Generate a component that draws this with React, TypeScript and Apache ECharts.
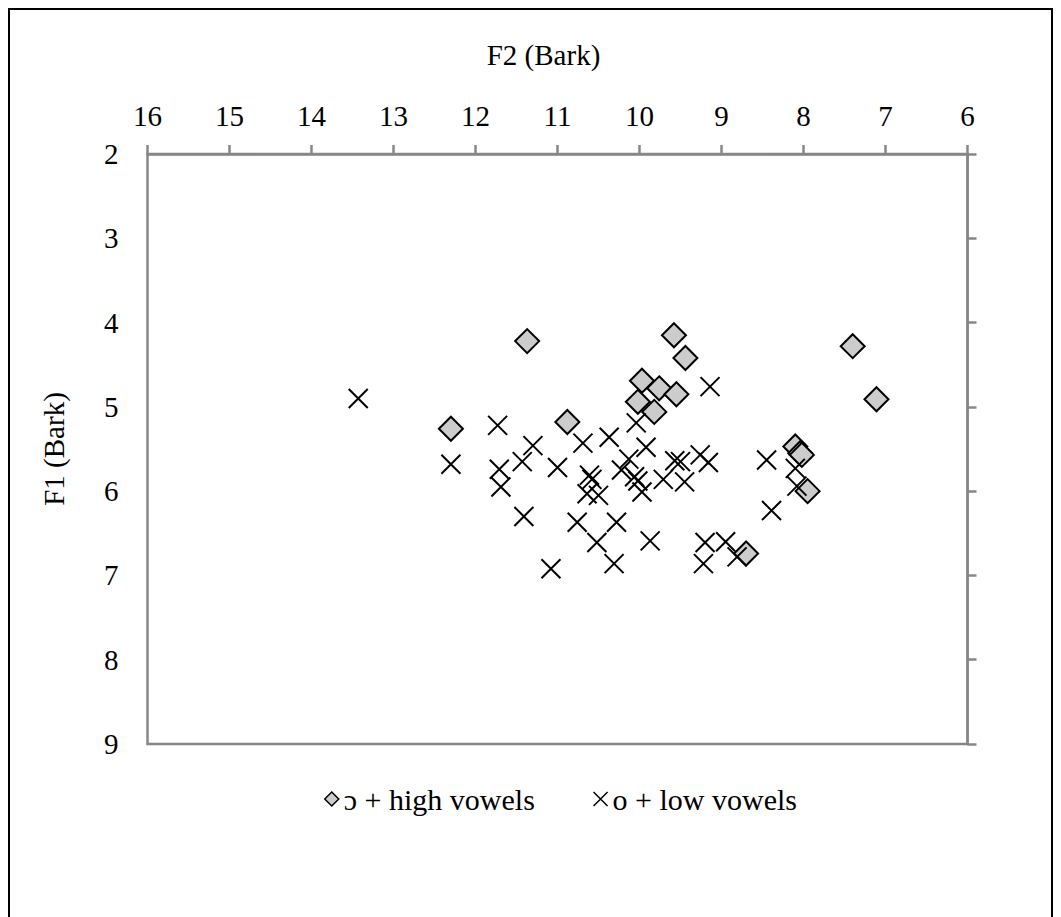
import React, { useEffect, useRef } from "react";
import * as echarts from "echarts";

const highName = "ɔ + high vowels";
const lowName = "o + low vowels";

// F2 (Bark), F1 (Bark)
const highF2 = [11.37, 12.3, 10.88, 9.58, 9.44, 9.97, 9.76, 9.55, 10.02, 9.82, 7.4, 7.11, 8.1, 8.04, 8.02, 7.95, 8.7];
const highF1 = [4.22, 5.26, 5.18, 4.15, 4.42, 4.69, 4.78, 4.85, 4.94, 5.06, 4.28, 4.91, 5.47, 5.55, 5.57, 6.0, 6.74];

const lowF2 = [13.43, 11.73, 12.3, 11.3, 11.71, 11.69, 11.43, 11.0, 10.69, 10.37, 10.04, 9.92, 11.41, 10.76, 10.28, 10.52, 9.87, 11.08, 10.31, 10.61, 10.58, 10.64, 10.5, 10.13, 10.22, 10.06, 10.02, 9.97, 9.71, 9.45, 9.57, 9.5, 9.26, 9.16, 9.14, 8.45, 8.1, 8.08, 8.39, 9.2, 8.95, 9.22, 8.81];
const lowF1 = [4.9, 5.22, 5.68, 5.46, 5.74, 5.95, 5.65, 5.72, 5.43, 5.36, 5.19, 5.48, 6.3, 6.37, 6.37, 6.61, 6.59, 6.92, 6.86, 5.81, 5.86, 6.03, 6.05, 5.62, 5.75, 5.83, 5.88, 6.01, 5.86, 5.89, 5.64, 5.65, 5.57, 5.66, 4.76, 5.63, 5.73, 5.94, 6.23, 6.61, 6.6, 6.86, 6.78];

const F2_MIN = 6, F2_MAX = 16, F1_MIN = 2, F1_MAX = 9;

const FONT = "Liberation Serif";
const GRAY = "#878787";
const CROSS = "path://M0,0L10,10M10,0L0,10";

export default function App() {
  const ref = useRef<HTMLDivElement>(null);
  useEffect(() => {
    if (!ref.current) return;
    const chart = echarts.init(ref.current, undefined, { renderer: "svg" });
    const high = highF2.map((x, i) => [x, highF1[i]]);
    const low = lowF2.map((x, i) => [x, lowF1[i]]);
    chart.setOption({
      animation: false,
      backgroundColor: "#fff",
      textStyle: { fontFamily: FONT, color: "#000" },
      grid: {
        left: 137.5, top: 144, width: 820, height: 590,
        show: true, borderColor: GRAY, borderWidth: 2.5, backgroundColor: "transparent",
      },
      xAxis: {
        type: "value", position: "top", inverse: true,
        min: F2_MIN, max: F2_MAX, interval: 1,
        name: "F2 (Bark)", nameLocation: "middle", nameGap: 85,
        nameTextStyle: { fontFamily: FONT, fontSize: 29, color: "#000", padding: [0, 28, 0, 0] },
        axisLine: { show: true, lineStyle: { color: GRAY, width: 2.5 } },
        axisTick: { show: true, inside: false, length: 9, lineStyle: { color: GRAY, width: 2.5 } },
        axisLabel: { fontFamily: FONT, fontSize: 29, color: "#000", margin: 24 },
        splitLine: { show: false },
      },
      yAxis: [
        {
          type: "value", position: "left", inverse: true,
          min: F1_MIN, max: F1_MAX, interval: 1,
          name: "F1 (Bark)", nameLocation: "middle", nameGap: 79, nameRotate: 90,
          nameTextStyle: { fontFamily: FONT, fontSize: 29, color: "#000" },
          axisLine: { show: false },
          axisTick: { show: false },
          axisLabel: { fontFamily: FONT, fontSize: 29, color: "#000", margin: 29 },
          splitLine: { show: false },
        },
        {
          type: "value", position: "right", inverse: true,
          min: F1_MIN, max: F1_MAX, interval: 1,
          axisLine: { show: true, lineStyle: { color: GRAY, width: 2.5 } },
          axisTick: { show: true, inside: false, length: 9, lineStyle: { color: GRAY, width: 2.5 } },
          axisLabel: { show: false },
          splitLine: { show: false },
        },
      ],
      legend: {
        left: 309, top: 769,
        itemGap: 58, itemWidth: 14, itemHeight: 14,
        textStyle: { fontFamily: FONT, fontSize: 30, color: "#000" },
        data: [
          { name: highName, icon: "diamond", itemStyle: { color: "#cccccc", borderColor: "#000", borderWidth: 1.5 } },
          { name: lowName, icon: CROSS, itemStyle: { color: "transparent", borderColor: "#000", borderWidth: 1.5 } },
        ],
      },
      series: [
        {
          name: highName, type: "scatter", yAxisIndex: 0, data: high,
          symbol: "diamond", symbolSize: 24,
          itemStyle: { color: "#cccccc", borderColor: "#000", borderWidth: 2, opacity: 1 },
          emphasis: { disabled: true },
        },
        {
          name: lowName, type: "scatter", yAxisIndex: 0, data: low,
          symbol: CROSS, symbolSize: 19,
          itemStyle: { color: "transparent", borderColor: "#000", borderWidth: 2, opacity: 1 },
          emphasis: { disabled: true },
        },
      ],
    });
    return () => chart.dispose();
  }, []);
  return (
    <div style={{ width: 1045, height: 930, border: "2px solid #000", boxSizing: "border-box", background: "#fff" }}>
      <div ref={ref} style={{ width: 1041, height: 926 }} />
    </div>
  );
}
